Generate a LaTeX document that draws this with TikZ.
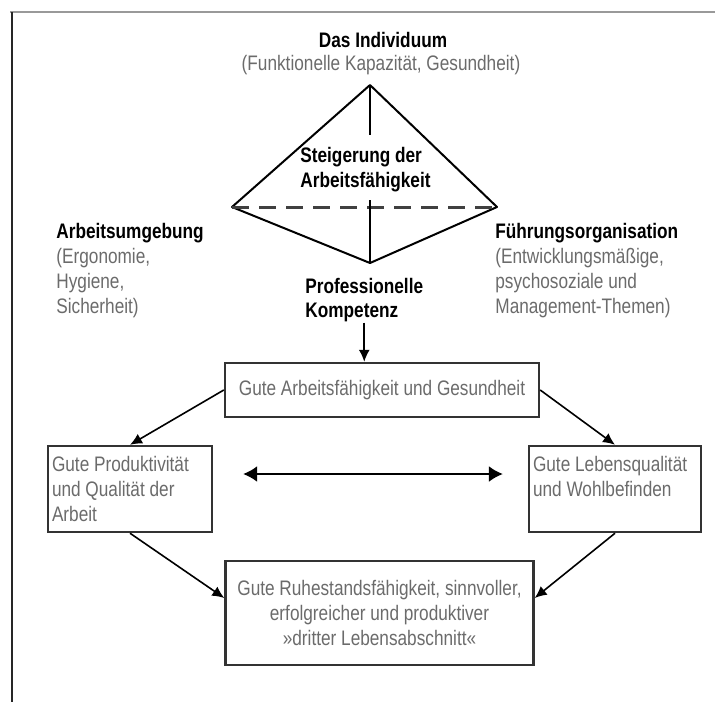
\documentclass[tikz,border=0pt]{standalone}
\usepackage{fontspec}
\setmainfont{Liberation Sans}[FakeStretch=0.82]
\usepackage{tikz}
\usetikzlibrary{arrows.meta,positioning}
\definecolor{grey}{gray}{0.42}
\def \fs {\fontsize{10.5}{12.4}\selectfont}
\tikzstyle{head} = [inner sep=0,align=left,font=\fs\bfseries,text=black]
\tikzstyle{note} = [inner sep=0,align=left,font=\fs,text=grey]
\tikzstyle{box} = [draw=black!80,line width=1.2pt,rectangle,inner xsep=2pt,inner ysep=0,font=\fs,text=grey]
\tikzstyle{link} = [-{Latex[length=6pt,width=5.5pt]},line width=0.8pt]
\tikzstyle{pyr} = [line width=1pt,line join=round]
\tikzstyle{base} = [black!75,line width=1.5pt,dash pattern=on 8.5pt off 5pt]

\begin{document}
\begin{tikzpicture}[x=0.5pt,y=-0.5pt]
  \useasboundingbox (0,0) rectangle (715,702);
  % frame
  \draw[black!40,line width=1.4pt] (715,12) -- (10,12);
  \draw[black!85,line width=0.8pt] (12,12) -- (12,702);

  % pyramid
  \coordinate (top) at (370,85);
  \coordinate (lft) at (232,207);
  \coordinate (rgt) at (497,207);
  \coordinate (bot) at (370,263);
  \draw[pyr] (lft) -- (top) -- (rgt) -- (bot) -- cycle;
  \draw[base] (lft) -- (rgt);
  \draw[pyr] (top) -- +(0,50);
  \draw[pyr] (bot) -- +(0,-63);

  \node[head] (ind) at (383,40) {Das Individuum};
  \node[note] (indn) at (381,65) {(Funktionelle Kapazität, Gesundheit)};
  \node[head,anchor=west] (steig) at (300,170) {Steigerung der\\Arbeitsfähigkeit};
  \node[head,anchor=west] (umg) at (56,233) {Arbeitsumgebung};
  \node[note,anchor=west] (umgn) at (56,283) {(Ergonomie,\\Hygiene,\\Sicherheit)};
  \node[head,anchor=west] (komp) at (305,300) {Professionelle\\Kompetenz};
  \node[head,anchor=west] (fuehr) at (495,233) {Führungsorganisation};
  \node[note,anchor=west] (fuehrn) at (495,283) {(Entwicklungsmäßige,\\psychosoziale und\\Management-Themen)};

  % boxes
  \node[box,minimum width=157pt,minimum height=27pt] (gut) at (382,390) {Gute Arbeitsfähigkeit und Gesundheit};
  \node[box,text width=78pt,minimum height=43pt,align=flush left] (prod) at (130,489) {Gute Produktivität\\und Qualität der\\Arbeit};
  \node[box,text width=82pt,minimum height=43pt,align=flush left] (leben) at (615,489) {Gute Lebensqualität\\und Wohlbefinden\\\mbox{}};
  \node[box,text width=150pt,minimum height=52pt,align=flush center] (ruhe) at (379.5,613) {Gute Ruhestandsfähigkeit, sinnvoller,\\erfolgreicher und produktiver\\»dritter Lebensabschnitt«};

  % arrows
  \draw[link] (komp) -- (komp |- gut.north);
  \draw[link] (gut.west) -- (prod.north);
  \draw[link] (gut.east) -- (leben.north);
  \draw[link] (prod.south) -- ([yshift=7.5pt]ruhe.west);
  \draw[link] (leben.south) -- ([yshift=7.5pt]ruhe.east);
  \draw[{Latex[length=7pt,width=8pt]}-{Latex[length=7pt,width=8pt]},line width=0.9pt,shorten <=15pt,shorten >=12.5pt] ([yshift=7.5pt]prod.east) -- ([yshift=7.5pt]leben.west);
\end{tikzpicture}
\end{document}
